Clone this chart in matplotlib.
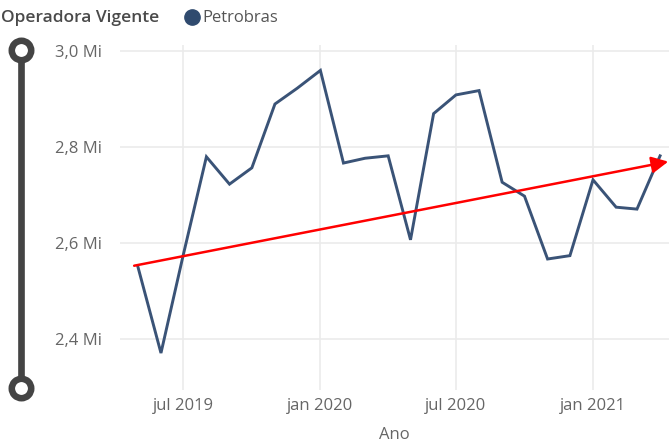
import matplotlib
matplotlib.use("Agg")
import matplotlib.pyplot as plt
from matplotlib.lines import Line2D
import datetime as dt

plt.rcParams['font.family'] = ['Open Sans', 'DejaVu Sans']

# ---- data ----
months = ["2019-05", "2019-06", "2019-07", "2019-08", "2019-09", "2019-10", "2019-11", "2019-12",
          "2020-01", "2020-02", "2020-03", "2020-04", "2020-05", "2020-06", "2020-07", "2020-08",
          "2020-09", "2020-10", "2020-11", "2020-12", "2021-01", "2021-02", "2021-03", "2021-04"]
values = [2.55, 2.37, 2.575, 2.779, 2.722, 2.756, 2.889, 2.922,
          2.959, 2.766, 2.776, 2.781, 2.606, 2.869, 2.908, 2.917,
          2.726, 2.697, 2.566, 2.573, 2.731, 2.674, 2.670, 2.781]
trend_dates = ["2019-04-26", "2021-04-12"]
trend_values = [2.552, 2.769]
yticks = [2.4, 2.6, 2.8, 3.0]
ytick_labels = ["2,4 Mi", "2,6 Mi", "2,8 Mi", "3,0 Mi"]
xticks = ["2019-07-01", "2020-01-01", "2020-07-01", "2021-01-01"]
xtick_labels = ["jul 2019", "jan 2020", "jul 2020", "jan 2021"]
series_name = "Petrobras"
legend_title = "Operadora Vigente"
x_title = "Ano"

W, H = 669, 443
fig = plt.figure(figsize=(W / 100, H / 100), dpi=100)
ax = fig.add_axes([120 / W, 1 - 390 / H, (669 - 120) / W, (390 - 45) / H])

dates = [dt.datetime.strptime(m + "-01", "%Y-%m-%d") for m in months]
ax.plot(dates, values, color="#3A5377", lw=2.1, solid_joinstyle="miter", zorder=3)

ax.set_xlim(dt.datetime(2019, 4, 7), dt.datetime(2021, 4, 13))
ax.set_ylim(2.293, 3.012)

ax.set_yticks(yticks)
ax.set_yticklabels(ytick_labels)
ax.set_xticks([dt.datetime.strptime(d, "%Y-%m-%d") for d in xticks])
ax.set_xticklabels(xtick_labels)

txt_color = "#666666"
ax.tick_params(axis="both", length=0, labelsize=12, colors=txt_color)
ax.tick_params(axis="y", pad=13)
ax.tick_params(axis="x", pad=6)
ax.grid(True, color="#EBEBEB", lw=1.2, zorder=0)
for s in ax.spines.values():
    s.set_visible(False)
ax.set_xlabel(x_title, fontsize=12, color=txt_color, labelpad=9)

# trend arrow
td = [dt.datetime.strptime(d, "%Y-%m-%d") for d in trend_dates]
ax.annotate("", xy=(td[1], trend_values[1]), xytext=(td[0], trend_values[0]),
            arrowprops=dict(arrowstyle="-|>,head_length=1.0,head_width=0.5",
                            color="#FF0000", lw=1.8, shrinkA=0, shrinkB=0),
            annotation_clip=False, zorder=4)

# legend
fig.text(1 / W, 1 - 18 / H, legend_title, fontsize=12.5, fontweight="semibold",
         color="#4A4A4A", va="center", ha="left")
fig.add_artist(Line2D([192 / W], [1 - 17 / H], marker="o", markersize=11, color="#2F4A6E",
                      transform=fig.transFigure))
fig.text(202 / W, 1 - 18 / H, series_name, fontsize=12, color="#555555", va="center", ha="left")

# slider decoration
sl_color = "#444444"
fig.add_artist(Line2D([21 / W, 21 / W], [1 - 55 / H, 1 - 383 / H], color=sl_color, lw=4.8,
                      transform=fig.transFigure))
for yy in (50, 388):
    fig.add_artist(Line2D([21 / W], [1 - yy / H], marker="o", markersize=14, markerfacecolor="white",
                          markeredgecolor=sl_color, markeredgewidth=4.7, transform=fig.transFigure))

fig.savefig("out.png", dpi=100, facecolor="white")
